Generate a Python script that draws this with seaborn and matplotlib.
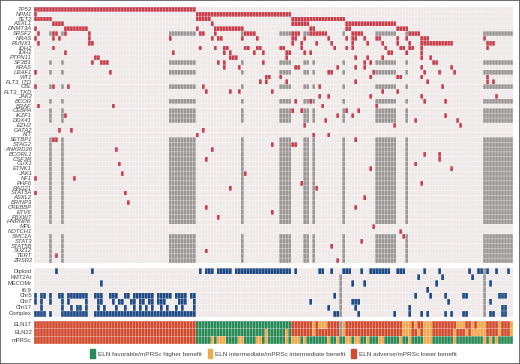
import numpy as np
import matplotlib
matplotlib.use("Agg")
import matplotlib.pyplot as plt
from matplotlib.colors import ListedColormap
from matplotlib.patches import Patch, Rectangle
import seaborn as sns

n_samples = 160

genes = ["TP53", "NPM1", "TET2", "ASXL1", "DNMT3A", "SRSF2", "NRAS", "RUNX1", "IDH2", "IDH1",
         "PTPN11", "SF3B1", "KRAS", "U2AF1", "WT1", "FLT3_ITD", "CBL", "FLT3_TKD", "JAK2", "BCOR",
         "BRAF", "CEBPA", "IKZF1", "DDX41", "EZH2", "GATA2", "KIT", "SETBP1", "STAG2", "ANKRD26",
         "BCORL1", "CSF3R", "CUX1", "ETNK1", "JAK1", "NF1", "PHF6", "RAD21", "STAT5A", "ASXL2",
         "BRINP3", "CREBBP", "ETV6", "FBXW7", "HNRNPK", "MPL", "NOTCH1", "SMC1A", "STAT3", "STAT5B",
         "SUZ12", "TERT", "ZRSR2"]

# mutated samples per gene, (a, b) means a run of samples a..b
gene_hits = [
    [(0, 53)],
    [0, (54, 85)],
    [(0, 5), (54, 58), (86, 103)],
    [(6, 9), 59, (86, 91), (104, 120)],
    [0, (10, 17), 54, (60, 69), (92, 93), (104, 105), (121, 124)],
    [1, (6, 7), 10, 18, (55, 56), 60, (70, 73), (86, 88), (92, 97), (106, 109), (125, 128)],
    [0, 6, 8, 18, 45, 59, (61, 62), 69, 74, (86, 87), 90, 98, 104, (106, 107), 110, (114, 115), 121, 124, (129, 131), 150],
    [1, (18, 19), 86, 89, 94, 99, 106, 111, 116, 121, 125, (129, 139), (151, 153)],
    [6, 55, 60, (63, 64), (70, 71), 74, 75, (82, 83), 89, 100, 104, 106, 117, (122, 123), (125, 126), 129, 151],
    [10, 46, 63, 65, 73, 76, (84, 85), 90, 92, (118, 119), 124, 129],
    [(20, 21), (65, 67), 84, 107, 111, 116, 129, 132],
    [19, (22, 24), 61, 63, 76, 110, 112, (133, 134)],
    [63, 68, (87, 88), 101, 107, 110, 129, 139],
    [0, 25, (98, 99), 113, 130, 135, 140],
    [(77, 78), 82, 112, (121, 122), 129, 151],
    [75, 77, 84, 107, 131, 151, 153],
    [0, 6, 11, 56, 95, 136],
    [57, 65, 68, 79, 116, 121],
    [95, 98, 112, 129, 154],
    [87, 92, 130, 137],
    [1, 26, 96, 114],
    [86, 89, 104, 108],
    [10, 101, 106, 137],
    [97, 127, 141],
    [90, 120, 142],
    [8, 12, 56],
    [54, 93, 98],
    [(6, 7), 107],
    [79, (86, 87)],
    [27, 59],
    [130, 135],
    [57, 135],
    [28, 127],
    [112, 139],
    [29, 70],
    [0, 13],
    [89, 129],
    [65, 94],
    [0, 30],
    [110],
    [31],
    [57, 107],
    [79],
    [61],
    [],
    [113],
    [122],
    [123],
    [109],
    [99],
    [57],
    [7],
    [101],
]

# samples outside the sequencing panel of the rarer genes
untested_samples = [5, 9, (45, 53), 69, (82, 85), (90, 91), 93, 103, (114, 120), 124, (150, 159)]
untested_genes = ["SRSF2", "SF3B1", "U2AF1", "CBL", "BCOR", "CEBPA", "IKZF1", "DDX41",
                  "SETBP1", "STAG2", "ANKRD26", "BCORL1", "CSF3R", "CUX1", "ETNK1", "JAK1",
                  "NF1", "PHF6", "RAD21", "STAT5A", "ASXL2", "BRINP3", "CREBBP", "ETV6",
                  "FBXW7", "HNRNPK", "SMC1A", "STAT3", "STAT5B", "SUZ12", "TERT", "ZRSR2"]

cyto_labels = ["Diploid", "KMT2Ar", "MECOMr", "t6;9", "Chr5", "Chr7", "Chr17", "Complex"]
cyto_hits = [
    [7, 19, 55, (57, 59), (61, 65), (67, 85), 87, (95, 96), 99, (103, 105), 109, (112, 117), 118,
     (121, 123), 130, 135, 145, (148, 149), 151, 154, 158],
    [128, 136, 146],
    [22, 106, 110, 134, 152],
    [131],
    [0, (2, 3), 5, (8, 9), (11, 17), (20, 22), (25, 27), (30, 31), (33, 39), (41, 45), (47, 50), (52, 53),
     100, 127, 132, 137, (143, 144), (155, 157)],
    [0, 2, 5, 9, 11, 17, (21, 22), 26, (28, 29), (32, 33), (35, 36), (38, 39), (41, 43), (48, 50), 53,
     92, (106, 108), 138, 152],
    [2, 9, 12, (14, 15), 17, 21, 23, 27, 30, 33, 35, 37, 39, 42, 44, 47, 49, 53,
     98, 107, 125, (156, 157)],
    [(0, 3), 5, (9, 17), (20, 53), (100, 101), 108, 120, 125, 129, 131, 137, 139, (143, 144),
     (152, 153), (156, 157)],
]
cyto_untested = [102, 150]

eln_labels = ["ELN17", "ELN22", "mPRSc"]
# risk colour runs: 0 favorable, 1 intermediate, 2 adverse, 3 missing
eln17_runs = [(0, 53, 2), (54, 85, 0), (86, 92, 2), (93, 93, 1), (94, 94, 2), (95, 97, 1), (98, 101, 2),
              (102, 102, 3), (103, 103, 1), (104, 122, 2), (123, 125, 1), (126, 126, 2), (127, 127, 1),
              (128, 129, 2), (130, 132, 1), (133, 140, 2), (141, 143, 1), (144, 145, 2), (146, 146, 1),
              (147, 147, 2), (148, 150, 1), (151, 154, 2), (155, 155, 1), (156, 158, 2), (159, 159, 1)]
eln22_runs = [(0, 53, 2), (54, 76, 0), (77, 77, 1), (78, 83, 0), (84, 84, 1), (85, 85, 0), (86, 92, 2),
              (93, 93, 1), (94, 101, 2), (102, 102, 3), (103, 103, 1), (104, 122, 2), (123, 125, 1),
              (126, 127, 2), (128, 128, 1), (129, 129, 2), (130, 132, 1), (133, 139, 2), (140, 140, 1),
              (141, 143, 2), (144, 144, 1), (145, 145, 2), (146, 147, 1), (148, 150, 1), (151, 154, 2),
              (155, 155, 1), (156, 158, 2), (159, 159, 1)]
mprsc_runs = [(0, 53, 2), (54, 58, 0), (59, 59, 1), (60, 60, 0), (61, 63, 1), (64, 67, 0), (68, 69, 1),
              (70, 73, 0), (74, 75, 1), (76, 76, 0), (77, 77, 1), (78, 83, 0), (84, 84, 1), (85, 85, 0),
              (86, 88, 1), (89, 89, 0), (90, 90, 1), (91, 97, 0), (98, 98, 1), (99, 100, 0), (101, 101, 1),
              (102, 103, 0), (104, 105, 1), (106, 106, 0), (107, 108, 1), (109, 110, 0), (111, 111, 1),
              (112, 114, 0), (115, 116, 1), (117, 121, 0), (122, 122, 1), (123, 124, 0), (125, 125, 1),
              (126, 129, 0), (130, 132, 1), (133, 139, 0), (140, 140, 1), (141, 149, 0), (150, 150, 1),
              (151, 151, 0), (152, 152, 1), (153, 153, 0), (154, 154, 1), (155, 159, 0)]

legend_labels = ["ELN favorable/mPRSc higher benefit",
                 "ELN intermediate/mPRSc intermediate benefit",
                 "ELN adverse/mPRSc lower benefit"]

BG = "#efe9e9"
LINE = "#fdfcfc"
MUT = "#c8404e"
GREY = "#9c9797"
BLUE = "#1f4a85"
GREEN = "#2b8a57"
ORANGE = "#f0a94e"
RED = "#d14b2f"


def expand(items):
    out = []
    for it in items:
        if isinstance(it, tuple):
            out.extend(range(it[0], it[1] + 1))
        else:
            out.append(it)
    return out


def draw(ax, mat, labels, colors, italic=False):
    sns.heatmap(mat, ax=ax, cmap=ListedColormap(colors), vmin=0, vmax=len(colors), cbar=False,
                xticklabels=False, yticklabels=labels)
    # thin cell grid, snapping off so it stays sub-pixel
    rows, cols = mat.shape
    v = ax.vlines(np.arange(cols + 1), 0, rows, colors=LINE, linewidth=0.32, alpha=0.75)
    h = ax.hlines(np.arange(rows + 1), 0, cols, colors=LINE, linewidth=0.32, alpha=0.75)
    v.set_snap(False)
    h.set_snap(False)
    ax.tick_params(axis="y", length=0, pad=1.5)
    for t in ax.get_yticklabels():
        t.set_rotation(0)
        t.set_fontsize(4.2)
        t.set_color("#444444")
        t.set_style("italic" if italic else "normal")


sns.set_theme(style="white")
plt.rcParams["font.family"] = ["Liberation Sans", "DejaVu Sans"]

W, H = 520, 364
fig = plt.figure(figsize=(W / 100, H / 100), dpi=100, facecolor="white")
x0, x1 = 34, 513


def axes_px(top, bottom):
    return fig.add_axes([x0 / W, 1 - bottom / H, (x1 - x0) / W, (bottom - top) / H])


# Mutations
mut = np.zeros((len(genes), n_samples))
for g in untested_genes:
    mut[genes.index(g), expand(untested_samples)] = 1
for i, hits in enumerate(gene_hits):
    mut[i, expand(hits)] = 2
draw(axes_px(7, 263), mut, genes, [BG, GREY, MUT], italic=True)

# Cytogenetics
cyto = np.zeros((len(cyto_labels), n_samples))
for i, hits in enumerate(cyto_hits):
    cyto[i, expand(hits)] = 2
cyto[1:, cyto_untested] = 1
cyto[0, 150] = 1
draw(axes_px(268.3, 317), cyto, cyto_labels, [BG, GREY, BLUE])

# Risk groups
eln = np.zeros((len(eln_labels), n_samples))
for i, runs in enumerate([eln17_runs, eln22_runs, mprsc_runs]):
    for a, b, v in runs:
        eln[i, a:b + 1] = v
draw(axes_px(321, 344), eln, eln_labels, [GREEN, ORANGE, RED, GREY])

handles = [Patch(color=c) for c in [GREEN, ORANGE, RED]]
fig.legend(handles, legend_labels, ncols=3, frameon=False, fontsize=4.6, loc="center",
           bbox_to_anchor=(273.5 / W, 1 - 353.5 / H), handlelength=0.65, handleheight=1.6,
           handletextpad=0.5, columnspacing=0.95, labelcolor="#444444", borderpad=0, borderaxespad=0)

fig.add_artist(Rectangle((0, 0), 1, 1, transform=fig.transFigure, fill=False, edgecolor="#555555", linewidth=1.2))
fig.savefig("out.png", dpi=100)
